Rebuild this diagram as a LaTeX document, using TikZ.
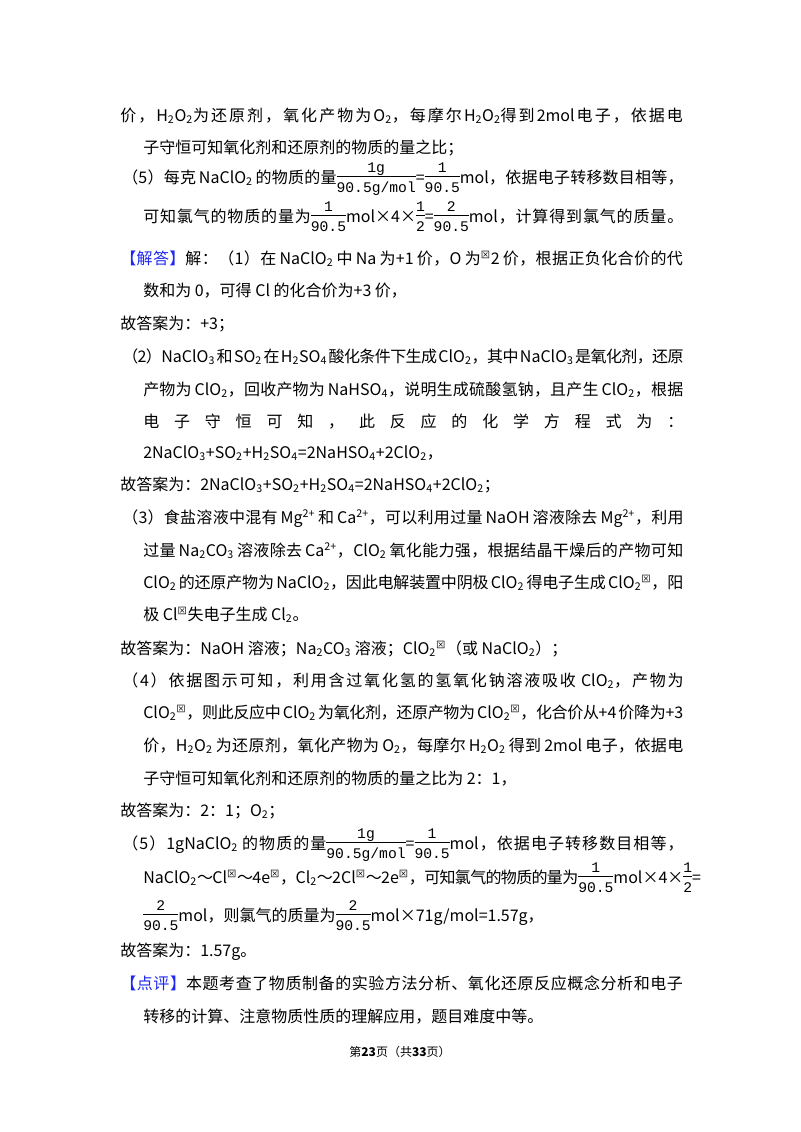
\documentclass[tikz,border=0pt]{standalone}
\usepackage{fontspec}
\setmainfont{Noto Sans CJK SC}
\newfontfamily\fmono{Liberation Mono}
\newcount\cc
\cc="4E00
\loop \XeTeXcharclass\cc=7 \advance\cc 1 \ifnum\cc<"A000 \repeat
\XeTeXcharclass"FF0C=7 \XeTeXcharclass"FF1A=7 \XeTeXcharclass"FF1B=7
\XeTeXcharclass"FF08=7 \XeTeXcharclass"FF09=7 \XeTeXcharclass"3001=7
\XeTeXcharclass"3002=7 \XeTeXcharclass"3010=7 \XeTeXcharclass"3011=7
\XeTeXcharclass"FF5E=7
\XeTeXinterchartokenstate=1
\newcommand\ig{\hskip 0pt plus 3pt minus 0.5pt\relax}
\XeTeXinterchartoks 7 7 = {\ig}
\XeTeXinterchartoks 0 7 = {\ig}
\XeTeXinterchartoks 7 0 = {\ig}
\newcommand\s[1]{\textsubscript{#1}}
\newcommand\m{\textsuperscript{\fontsize{7}{7}\selectfont ⊠}}
\newcommand\fr[2]{$\vcenter{\hbox{\fontsize{11}{12}\fmono\begin{tabular}{@{}c@{}}#1\\[-1pt]\hline\rule{0pt}{12pt}#2\end{tabular}}}$}
\newcommand\jb[2]{\hbox to #1{\spaceskip=2pt plus 4pt minus 1pt #2}}
\definecolor{hb}{RGB}{30,40,240}
\begin{document}
\begin{tikzpicture}[x=0.75pt,y=-0.75pt,
  ln/.style={anchor=base west,inner sep=0pt,font=\fontsize{12}{14}\selectfont}]
\useasboundingbox (0,0) rectangle (800,1132);
\node[ln] (l1) at (120,121) {\jb{422pt}{价，H\s2O\s2为还原剂，氧化产物为O\s2，每摩尔H\s2O\s2得到2mol电子，依据电}};
\node[ln] (l2) at (143,153) {子守恒可知氧化剂和还原剂的物质的量之比；};
\node[ln] (l3) at (122,183) {\jb{421pt}{（5）每克 NaClO\s2 的物质的量\fr{1g}{90.5g/mol}=\fr{1}{90.5}mol，依据电子转移数目相等，}};
\node[ln] (l4) at (143,222) {\jb{405pt}{可知氯气的物质的量为\fr{1}{90.5}mol×4×\fr{1}{2}=\fr{2}{90.5}mol，计算得到氯气的质量。}};
\node[ln] (l5) at (120,264) {\jb{422pt}{\textcolor{hb}{【解答】}解：（1）在 NaClO\s2 中 Na 为+1 价，O 为\m 2 价，根据正负化合价的代}};
\node[ln] (l6) at (143,296) {数和为 0，可得 Cl 的化合价为+3 价，};
\node[ln] (l7) at (120,329) {故答案为：+3；};
\node[ln] (l8) at (122,362) {\jb{421pt}{（2）NaClO\s3 和 SO\s2 在 H\s2SO\s4 酸化条件下生成 ClO\s2，其中 NaClO\s3 是氧化剂，还原}};
\node[ln] (l9) at (143,395) {\jb{405pt}{产物为 ClO\s2，回收产物为 NaHSO\s4，说明生成硫酸氢钠，且产生 ClO\s2，根据}};
\node[ln] (l10) at (143,427) {\jb{405pt}{电 子 守 恒 可 知 ， 此 反 应 的 化 学 方 程 式 为 ：}};
\node[ln] (l11) at (143,458) {2NaClO\s3+SO\s2+H\s2SO\s4=2NaHSO\s4+2ClO\s2，};
\node[ln] (l12) at (120,490) {故答案为：2NaClO\s3+SO\s2+H\s2SO\s4=2NaHSO\s4+2ClO\s2；};
\node[ln] (l13) at (122,523) {\jb{421pt}{（3）食盐溶液中混有 Mg\textsuperscript{2+} 和 Ca\textsuperscript{2+}，可以利用过量 NaOH 溶液除去 Mg\textsuperscript{2+}，利用}};
\node[ln] (l14) at (143,556) {\jb{405pt}{过量 Na\s2CO\s3 溶液除去 Ca\textsuperscript{2+}，ClO\s2 氧化能力强，根据结晶干燥后的产物可知}};
\node[ln] (l15) at (143,588) {\jb{405pt}{ClO\s2 的还原产物为 NaClO\s2，因此电解装置中阴极 ClO\s2 得电子生成 ClO\s2\m，阳}};
\node[ln] (l16) at (143,620) {极 Cl\m 失电子生成 Cl\s2。};
\node[ln] (l17) at (120,654) {故答案为：NaOH 溶液；Na\s2CO\s3 溶液；ClO\s2\m（或 NaClO\s2）；};
\node[ln] (l18) at (122,686) {\jb{421pt}{（4）依据图示可知，利用含过氧化氢的氢氧化钠溶液吸收 ClO\s2，产物为}};
\node[ln] (l19) at (143,718) {\jb{405pt}{ClO\s2\m，则此反应中 ClO\s2 为氧化剂，还原产物为 ClO\s2\m，化合价从+4 价降为+3}};
\node[ln] (l20) at (143,751) {\jb{405pt}{价，H\s2O\s2 为还原剂，氧化产物为 O\s2，每摩尔 H\s2O\s2 得到 2mol 电子，依据电}};
\node[ln] (l21) at (143,784) {子守恒可知氧化剂和还原剂的物质的量之比为 2：1，};
\node[ln] (l22) at (120,816) {故答案为：2：1；O\s2；};
\node[ln] (l23) at (122,849) {\jb{421pt}{（5）1gNaClO\s2 的物质的量\fr{1g}{90.5g/mol}=\fr{1}{90.5}mol，依据电子转移数目相等，}};
\node[ln] (l24) at (143,883) {\jb{405pt}{NaClO\s2～Cl\m～4e\m，Cl\s2～2Cl\m～2e\m，可知氯气的物质的量为\fr{1}{90.5}mol×4×\fr{1}{2}=}};
\node[ln] (l25) at (143,921) {\fr{2}{90.5}mol，则氯气的质量为\fr{2}{90.5}mol×71g/mol=1.57g，};
\node[ln] (l26) at (120,956) {故答案为：1.57g。};
\node[ln] (l27) at (120,989) {\jb{422pt}{\textcolor{hb}{【点评】}本题考查了物质制备的实验方法分析、氧化还原反应概念分析和电子}};
\node[ln] (l28) at (143,1022) {转移的计算、注意物质性质的理解应用，题目难度中等。};
\node[anchor=base,inner sep=0pt,font=\fontsize{9}{10}\selectfont] (pg) at (400,1056) {第\textbf{23}页（共\textbf{33}页）};
\end{tikzpicture}
\end{document}
